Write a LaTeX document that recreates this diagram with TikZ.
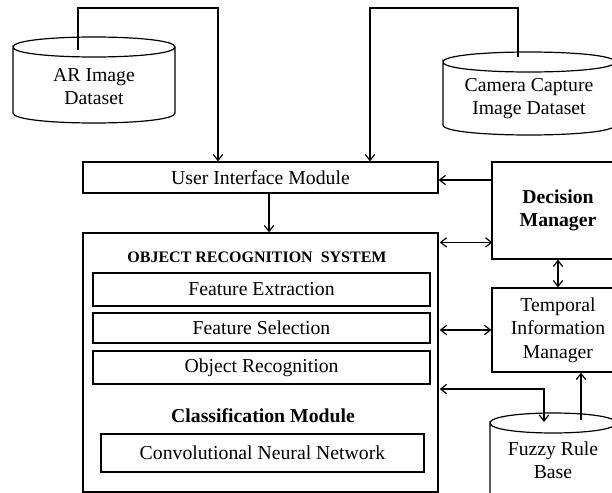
\documentclass[tikz,border=0pt]{standalone}
\usepackage{fontspec}
\setmainfont{Liberation Serif}
\usetikzlibrary{arrows.meta}
\begin{document}
\begin{tikzpicture}[x=0.75pt,y=-0.75pt,
  line width=0.9pt,
  box/.style={draw, inner sep=0pt, align=center, font=\fontsize{14.8}{17.5}\selectfont},
  txt/.style={align=center, inner sep=0pt, font=\fontsize{14.8}{17.5}\selectfont},
  btxt/.style={align=center, inner sep=0pt, font=\fontsize{14.8}{17.5}\selectfont\bfseries},
  arr/.style={-{Straight Barb[length=4.5pt,width=7pt]}},
  arr2/.style={{Straight Barb[length=4.5pt,width=7pt]}-{Straight Barb[length=4.5pt,width=7pt]}},
]
\useasboundingbox (0,0) rectangle (612,493);
\clip (0,0) rectangle (612,493);

% cylinders
\draw (13,47) .. controls (13,33.67) and (175,33.67) .. (175,47) .. controls (175,60.33) and (13,60.33) .. (13,47)
  -- (13,113) .. controls (13,126.33) and (175,126.33) .. (175,113) -- (175,47);
\node[txt] (ar) at (94,86.5) {AR Image\\Dataset};

\draw (443,62) .. controls (443,48.67) and (615,48.67) .. (615,62) .. controls (615,75.33) and (443,75.33) .. (443,62)
  -- (443,125) .. controls (443,138.33) and (615,138.33) .. (615,125) -- (615,62);
\node[txt] (cam) at (529,98.5) {Camera Capture\\Image Dataset};

\draw (490,423) .. controls (490,409.67) and (616,409.67) .. (616,423) .. controls (616,436.33) and (490,436.33) .. (490,423)
  -- (490,500) .. controls (490,513.33) and (616,513.33) .. (616,500) -- (616,423);
\node[txt] (fz) at (553,460) {Fuzzy Rule\\Base};

% boxes
\node[box, minimum width=266.25pt, minimum height=23.25pt] (ui) at (260.5,177.5) {User Interface Module};
\node[box, minimum width=266.25pt, minimum height=194.25pt] (ors) at (260.5,362.5) {};
\node[btxt, font=\fontsize{12}{13}\selectfont\bfseries] (title) at (257,257) {OBJECT RECOGNITION\ \ SYSTEM};
\node[box, minimum width=252.75pt, minimum height=24.75pt] (fe) at (261.5,289.5) {Feature Extraction};
\node[box, minimum width=252.75pt, minimum height=22.5pt] (fs) at (261.5,328) {Feature Selection};
\node[box, minimum width=252.75pt, minimum height=24.75pt] (or) at (261.5,367.5) {Object Recognition};
\node[btxt] (cls) at (263,416) {Classification Module};
\node[box, minimum width=242.25pt, minimum height=28.5pt] (cnn) at (262.5,453) {Convolutional Neural Network};
\node[box, font=\fontsize{14.8}{17.5}\selectfont\bfseries, minimum width=99pt, minimum height=72.75pt] (dm) at (558,210.5) {Decision\\Manager};
\node[box, minimum width=99pt, minimum height=63pt] (tim) at (558,330) {Temporal\\Information\\Manager};

% connectors
\coordinate (arIn) at (78,50);
\coordinate (arTop) at (218,8);
\draw[arr] (arIn) |- (arTop) -- (arTop |- ui.north);
\coordinate (camIn) at (518,57);
\coordinate (camTop) at (370,8);
\draw[arr] (camIn) |- (camTop) -- (camTop |- ui.north);
\draw[arr] ([yshift=-1.9pt]ui.east -| dm.west) -- ([yshift=-1.9pt]ui.east);
\draw[arr] ([xshift=6.4pt]ui.south) -- ([xshift=6.4pt]ui.south |- ors.north);
\draw[arr2] ([yshift=-7.5pt,xshift=0.8pt]ors.north east) -- ([yshift=-7.5pt,xshift=0.8pt]ors.north east -| dm.west);
\draw[arr2] (dm.south) -- (tim.north);
\draw[arr2] ([xshift=0.8pt]tim.west -| ors.east) -- (tim.west);
\coordinate (fzIn) at (544,422);
\draw[arr2] ([yshift=-19.9pt,xshift=0.8pt]ors.east) -| (fzIn);
\coordinate (fzOut) at (581,420);
\draw[arr] (fzOut) -- (fzOut |- tim.south);
\end{tikzpicture}
\end{document}
